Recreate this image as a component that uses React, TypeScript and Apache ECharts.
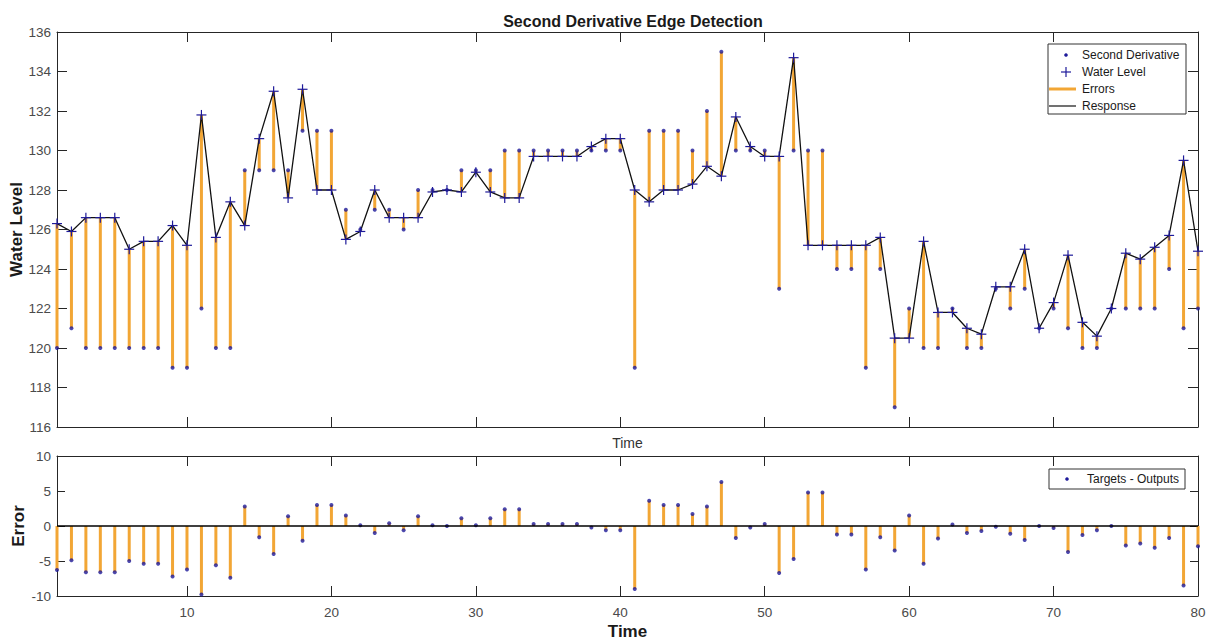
import React, { useEffect, useRef } from "react";
import * as echarts from "echarts";

const timeSteps: number[] = Array.from({ length: 80 }, (_, i) => i + 1);

const waterLevel: number[] = [
  126.3, 125.9, 126.6, 126.6, 126.6, 125.0, 125.4, 125.4, 126.2, 125.2,
  131.8, 125.6, 127.4, 126.2, 130.6, 133.0, 127.6, 133.1, 128.0, 128.0,
  125.5, 125.9, 128.0, 126.6, 126.6, 126.6, 127.9, 128.0, 127.9, 128.9,
  127.9, 127.6, 127.6, 129.7, 129.7, 129.7, 129.7, 130.2, 130.6, 130.6,
  128.0, 127.4, 128.0, 128.0, 128.3, 129.2, 128.7, 131.7, 130.2, 129.7,
  129.7, 134.7, 125.2, 125.2, 125.2, 125.2, 125.2, 125.6, 120.5, 120.5,
  125.4, 121.8, 121.8, 121.0, 120.7, 123.1, 123.1, 125.0, 121.0, 122.3,
  124.7, 121.3, 120.6, 122.0, 124.8, 124.5, 125.1, 125.7, 129.5, 124.9,
];

const secondDerivative: number[] = [
  120, 121, 120, 120, 120, 120, 120, 120, 119, 119,
  122, 120, 120, 129, 129, 129, 129, 131, 131, 131,
  127, 126, 127, 127, 126, 128, 128, 128, 129, 129,
  129, 130, 130, 130, 130, 130, 130, 130, 130, 130,
  119, 131, 131, 131, 130, 132, 135, 130, 130, 130,
  123, 130, 130, 130, 124, 124, 119, 124, 117, 122,
  120, 120, 122, 120, 120, 123, 122, 123, 121, 122,
  121, 120, 120, 122, 122, 122, 122, 124, 121, 122,
];

const errorValues: number[] = [
  -6.3, -4.9, -6.6, -6.6, -6.6, -5.0, -5.4, -5.4, -7.2, -6.2,
  -9.8, -5.6, -7.4, 2.8, -1.6, -4.0, 1.4, -2.1, 3.0, 3.0,
  1.5, 0.1, -1.0, 0.4, -0.6, 1.4, 0.1, 0.0, 1.1, 0.1,
  1.1, 2.4, 2.4, 0.3, 0.3, 0.3, 0.3, -0.2, -0.6, -0.6,
  -9.0, 3.6, 3.0, 3.0, 1.7, 2.8, 6.3, -1.7, -0.2, 0.3,
  -6.7, -4.7, 4.8, 4.8, -1.2, -1.2, -6.2, -1.6, -3.5, 1.5,
  -5.4, -1.8, 0.2, -1.0, -0.7, -0.1, -1.1, -2.0, 0.0, -0.3,
  -3.7, -1.3, -0.6, 0.0, -2.8, -2.5, -3.1, -1.7, -8.5, -2.9,
];

const xTicks: number[] = [10, 20, 30, 40, 50, 60, 70, 80];

const ORANGE = "#f2a635";
const BLUE = "#1e1a9a";
const AXIS = "#262626";
const FONT = "'Liberation Sans', Arial, sans-serif";

export default function App() {
  const ref = useRef<HTMLDivElement>(null);

  useEffect(() => {
    if (!ref.current) return;
    const chart = echarts.init(ref.current, null, { renderer: "svg" });

    const axisLine = { show: true, lineStyle: { color: AXIS, width: 1 } };
    const xBase = (gridIndex: number, position: "top" | "bottom", labels: boolean, tickLen: number) => ({
      type: "value" as const,
      gridIndex,
      position,
      min: 1,
      max: 80,
      axisLine: { ...axisLine, onZero: false },
      axisTick: { show: true, inside: true, length: tickLen, customValues: xTicks, lineStyle: { color: AXIS } },
      axisLabel: labels
        ? { show: true, customValues: xTicks, color: "#4a4a4a", fontSize: 13.5, fontFamily: FONT, margin: 9 }
        : { show: false },
      splitLine: { show: false },
    });
    const yBase = (gridIndex: number, position: "left" | "right", labels: boolean, min: number, max: number, interval: number, tickLen: number) => ({
      type: "value" as const,
      gridIndex,
      position,
      min,
      max,
      interval,
      axisLine: { ...axisLine, onZero: false },
      axisTick: { show: true, inside: true, length: tickLen, lineStyle: { color: AXIS } },
      axisLabel: labels
        ? { show: true, color: "#4a4a4a", fontSize: 13.5, fontFamily: FONT, margin: 6 }
        : { show: false },
      splitLine: { show: false },
    });

    const topData = timeSteps.map((t, i) => [t, secondDerivative[i], waterLevel[i]]);
    const respData = timeSteps.map((t, i) => [t, waterLevel[i]]);
    const targData = timeSteps.map((t, i) => [t, secondDerivative[i]]);
    const errData = timeSteps.map((t, i) => [t, errorValues[i]]);

    const legendTextStyle = { fill: "#1a1a1a", font: `12px ${FONT}` };

    chart.setOption({
      animation: false,
      backgroundColor: "#ffffff",
      title: {
        text: "Second Derivative Edge Detection",
        left: 628,
        top: 8,
        textAlign: "center",
        textStyle: { fontSize: 16, fontWeight: "bold", color: "#1a1a1a", fontFamily: FONT },
      },
      grid: [
        { left: 57, top: 32, width: 1141, height: 395, containLabel: false, outerBoundsMode: "none" },
        { left: 57, top: 456, width: 1141, height: 140, containLabel: false, outerBoundsMode: "none" },
      ],
      xAxis: [
        {
          ...xBase(0, "bottom", false, 10),
          name: "Time",
          nameLocation: "middle",
          nameGap: 9,
          nameMoveOverlap: false,
          nameTextStyle: { fontSize: 14, color: "#333333", fontFamily: FONT },
        },
        xBase(0, "top", false, 10),
        {
          ...xBase(1, "bottom", true, 10),
          name: "Time",
          nameLocation: "middle",
          nameGap: 27,
          nameMoveOverlap: false,
          nameTextStyle: { fontSize: 17, fontWeight: "bold", color: "#1a1a1a", fontFamily: FONT },
        },
        xBase(1, "top", false, 10),
      ],
      yAxis: [
        {
          ...yBase(0, "left", true, 116, 136, 2, 10),
          name: "Water Level",
          nameLocation: "middle",
          nameGap: 32,
          nameMoveOverlap: false,
          nameTextStyle: { fontSize: 17, fontWeight: "bold", color: "#1a1a1a", fontFamily: FONT },
        },
        yBase(0, "right", false, 116, 136, 2, 10),
        {
          ...yBase(1, "left", true, -10, 10, 5, 8),
          name: "Error",
          nameLocation: "middle",
          nameGap: 30,
          nameMoveOverlap: false,
          nameTextStyle: { fontSize: 17, fontWeight: "bold", color: "#1a1a1a", fontFamily: FONT },
        },
        yBase(1, "right", false, -10, 10, 5, 8),
      ],
      series: [
        {
          name: "Errors",
          type: "custom",
          xAxisIndex: 0,
          yAxisIndex: 0,
          data: topData,
          encode: { x: 0, y: [1, 2] },
          renderItem: (params: any, api: any) => {
            const p1 = api.coord([api.value(0), api.value(1)]);
            const p2 = api.coord([api.value(0), api.value(2)]);
            return {
              type: "line",
              shape: { x1: p1[0], y1: p1[1], x2: p2[0], y2: p2[1] },
              style: { stroke: ORANGE, lineWidth: 3 },
            };
          },
          z: 1,
        },
        {
          name: "Response",
          type: "line",
          xAxisIndex: 0,
          yAxisIndex: 0,
          data: respData,
          symbol: "none",
          lineStyle: { color: "#111111", width: 1.3 },
          z: 2,
        },
        {
          name: "Water Level",
          type: "custom",
          xAxisIndex: 0,
          yAxisIndex: 0,
          data: respData,
          encode: { x: 0, y: 1 },
          renderItem: (params: any, api: any) => {
            const p = api.coord([api.value(0), api.value(1)]);
            const s = 5;
            return {
              type: "group",
              children: [
                { type: "line", shape: { x1: p[0] - s, y1: p[1], x2: p[0] + s, y2: p[1] }, style: { stroke: BLUE, lineWidth: 1.2 } },
                { type: "line", shape: { x1: p[0], y1: p[1] - s, x2: p[0], y2: p[1] + s }, style: { stroke: BLUE, lineWidth: 1.2 } },
              ],
            };
          },
          z: 3,
        },
        {
          name: "Second Derivative",
          type: "scatter",
          xAxisIndex: 0,
          yAxisIndex: 0,
          data: targData,
          symbol: "circle",
          symbolSize: 4,
          itemStyle: { color: BLUE },
          z: 4,
        },
        {
          name: "Error Stems",
          type: "custom",
          xAxisIndex: 2,
          yAxisIndex: 2,
          data: errData,
          encode: { x: 0, y: 1 },
          renderItem: (params: any, api: any) => {
            const p1 = api.coord([api.value(0), 0]);
            const p2 = api.coord([api.value(0), api.value(1)]);
            return {
              type: "line",
              shape: { x1: p1[0], y1: p1[1], x2: p2[0], y2: p2[1] },
              style: { stroke: ORANGE, lineWidth: 3 },
            };
          },
          markLine: {
            silent: true,
            symbol: "none",
            label: { show: false },
            lineStyle: { color: "#000000", width: 1.5, type: "solid" },
            data: [{ yAxis: 0 }],
          },
          z: 1,
        },
        {
          name: "Targets - Outputs",
          type: "scatter",
          xAxisIndex: 2,
          yAxisIndex: 2,
          data: errData,
          symbol: "circle",
          symbolSize: 4,
          itemStyle: { color: BLUE },
          z: 4,
        },
      ],
      graphic: [
        { type: "rect", shape: { x: 1048, y: 44, width: 138, height: 70 }, style: { fill: "#ffffff", stroke: "#333333", lineWidth: 1 }, z: 10 },
        { type: "circle", shape: { cx: 1066, cy: 55, r: 1.8 }, style: { fill: BLUE }, z: 11 },
        { type: "text", x: 1082, y: 55, style: { ...legendTextStyle, text: "Second Derivative", verticalAlign: "middle" }, z: 11 },
        { type: "line", shape: { x1: 1061, y1: 72, x2: 1071, y2: 72 }, style: { stroke: BLUE, lineWidth: 1.2 }, z: 11 },
        { type: "line", shape: { x1: 1066, y1: 67, x2: 1066, y2: 77 }, style: { stroke: BLUE, lineWidth: 1.2 }, z: 11 },
        { type: "text", x: 1082, y: 72, style: { ...legendTextStyle, text: "Water Level", verticalAlign: "middle" }, z: 11 },
        { type: "line", shape: { x1: 1049, y1: 89, x2: 1076, y2: 89 }, style: { stroke: ORANGE, lineWidth: 3 }, z: 11 },
        { type: "text", x: 1082, y: 89, style: { ...legendTextStyle, text: "Errors", verticalAlign: "middle" }, z: 11 },
        { type: "line", shape: { x1: 1049, y1: 106, x2: 1076, y2: 106 }, style: { stroke: "#111111", lineWidth: 1.2 }, z: 11 },
        { type: "text", x: 1082, y: 106, style: { ...legendTextStyle, text: "Response", verticalAlign: "middle" }, z: 11 },

        { type: "rect", shape: { x: 1049, y: 469, width: 136, height: 20 }, style: { fill: "#ffffff", stroke: "#333333", lineWidth: 1 }, z: 10 },
        { type: "circle", shape: { cx: 1067, cy: 479, r: 1.8 }, style: { fill: BLUE }, z: 11 },
        { type: "text", x: 1087, y: 479, style: { ...legendTextStyle, text: "Targets - Outputs", verticalAlign: "middle" }, z: 11 },
      ],
    });

    return () => chart.dispose();
  }, []);

  return (
    <div
      ref={ref}
      style={{ position: "fixed", left: 0, top: 0, width: 1212, height: 643, background: "#ffffff" }}
    />
  );
}
